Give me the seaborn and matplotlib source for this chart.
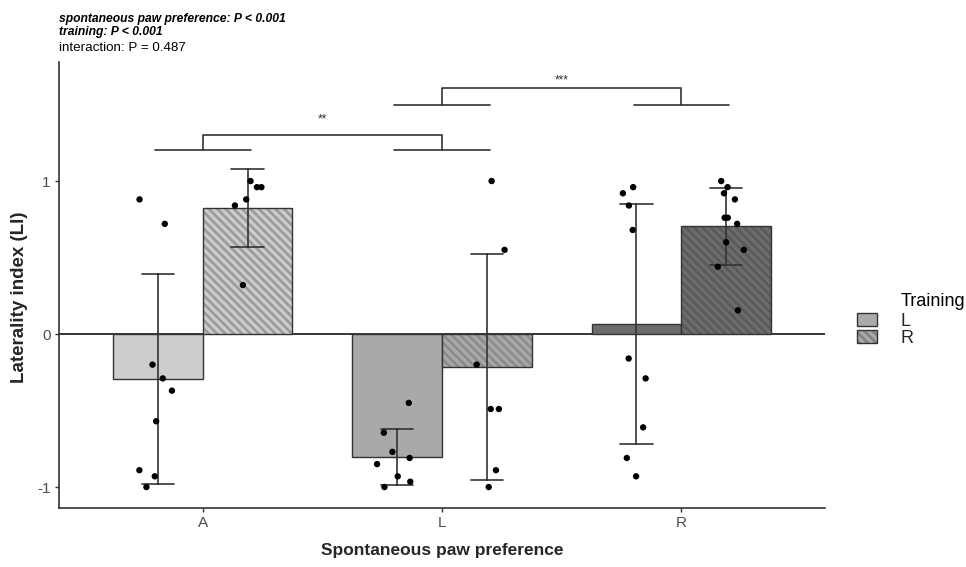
import numpy as np
import pandas as pd
import seaborn as sns
import matplotlib.pyplot as plt
import matplotlib.colors as mcolors
from matplotlib.patches import Patch

# spontaneous paw preference groups and training side
prefs = ['A', 'L', 'R']
trainings = ['L', 'R']

# individual laterality index values
li_AL = [0.88, 0.72, -0.20, -0.29, -0.37, -0.57, -0.93, -0.89, -1.00]
li_AR = [1.00, 0.96, 0.96, 0.88, 0.84, 0.32]
li_LL = [-0.45, -0.645, -0.77, -0.81, -0.85, -0.93, -0.965, -1.00]
li_LR = [1.00, 0.55, -0.20, -0.49, -0.49, -0.89, -1.00]
li_RL = [0.92, 0.96, 0.84, 0.68, -0.16, -0.29, -0.61, -0.81, -0.93]
li_RR = [1.00, 0.96, 0.92, 0.88, 0.76, 0.76, 0.72, 0.60, 0.55, 0.44, 0.155]

# significance brackets: (group 1, group 2, lower y, upper y, label, label y)
brackets = [('A', 'L', 1.20, 1.30, '**', 1.40),
            ('L', 'R', 1.50, 1.61, '***', 1.655)]

stat_lines = ['spontaneous paw preference: P < 0.001',
              'training: P < 0.001',
              'interaction: P = 0.487']

group_fill = {'A': '#cdcdcd', 'L': '#a9a9a9', 'R': '#6c6c6c'}
hatch_col = {'A': '#9c9c9c', 'L': '#8c8c8c', 'R': '#5a5a5a'}
dark = '#333333'

groups = {('A', 'L'): li_AL, ('A', 'R'): li_AR,
          ('L', 'L'): li_LL, ('L', 'R'): li_LR,
          ('R', 'L'): li_RL, ('R', 'R'): li_RR}
rows = []
for (p, t), vals in groups.items():
    for v in vals:
        rows.append({'pref': p, 'training': t, 'LI': v})
df = pd.DataFrame(rows)

sns.set_theme(style='white')
plt.rcParams['font.family'] = ['Liberation Sans', 'DejaVu Sans']
plt.rcParams['hatch.linewidth'] = 2.0

fig = plt.figure(figsize=(9.66, 5.67), dpi=100)
ax = fig.add_axes([59/966, 1-508/567, (825-59)/966, (508-62)/567])

ax.axhline(0, color='black', lw=1.1, zorder=0.5)

sns.barplot(data=df, x='pref', y='LI', hue='training', order=prefs,
            hue_order=trainings, errorbar='sd', capsize=0.27, width=0.75,
            err_kws={'color': dark, 'linewidth': 1.2},
            edgecolor=dark, linewidth=1, legend=False, ax=ax)

for i, cont in enumerate(ax.containers):
    for bar, p in zip(cont, prefs):
        bar.set_facecolor(group_fill[p])
        if trainings[i] == 'R':
            bar.set_hatch('\\\\\\\\')
            bar._hatch_color = mcolors.to_rgba(hatch_col[p])

np.random.seed(7)
sns.stripplot(data=df, x='pref', y='LI', hue='training', order=prefs,
              hue_order=trainings, dodge=True, jitter=0.15,
              palette=['black', 'black'], size=4.6, legend=False,
              ax=ax, zorder=4)

# significance brackets
pos = {p: i for i, p in enumerate(prefs)}
for g1, g2, y0, y1, lab, ly in brackets:
    x1, x2 = pos[g1], pos[g2]
    for x in (x1, x2):
        ax.plot([x - 0.2, x + 0.2], [y0, y0], color=dark, lw=1.2)
    ax.plot([x1, x1, x2, x2], [y0, y1, y1, y0], color=dark, lw=1.2)
    ax.text((x1 + x2) / 2, ly, lab, ha='center', va='center', fontsize=8.5,
            color=dark)

ax.set_xlim(-0.6, 2.6)
ax.set_ylim(-1.137, 1.778)
ax.set_yticks([-1, 0, 1])
ax.set_yticklabels(['-1', '0', '1'])
for s in ['top', 'right']:
    ax.spines[s].set_visible(False)
for s in ['left', 'bottom']:
    ax.spines[s].set_color(dark)
    ax.spines[s].set_linewidth(1.2)
ax.tick_params(axis='both', length=3, width=1, color=dark,
               labelcolor='#4d4d4d', labelsize=11, pad=3, bottom=True,
               left=True)
ax.set_xlabel('Spontaneous paw preference', fontsize=12.5,
              fontweight='bold', labelpad=9)
ax.set_ylabel('Laterality index (LI)', fontsize=13.5, fontweight='bold')
ax.yaxis.set_label_coords(-0.041, 0.473)

# statistics text above the panel
ys = [22, 35, 51]
for txt, y in zip(stat_lines, ys):
    bold = not txt.startswith('interaction')
    fig.text(59/966, 1 - y/567, txt, fontsize=8.7 if bold else 9.6,
             va='baseline', fontweight='bold' if bold else 'normal',
             fontstyle='italic' if bold else 'normal', color='black')

# legend
h_l = Patch(facecolor='#aaaaaa', edgecolor=dark, linewidth=1)
h_r = Patch(facecolor='#aaaaaa', edgecolor=dark, linewidth=1,
            hatch='\\\\\\\\')
h_r._hatch_color = mcolors.to_rgba('#828282')
leg = fig.legend([h_l, h_r], trainings, loc='center left',
                 bbox_to_anchor=(857/966, 1 - 330/567), frameon=False,
                 fontsize=13, handlelength=1.1, handleheight=0.7,
                 handletextpad=1.3, labelspacing=0.0, borderpad=0,
                 borderaxespad=0)
fig.text(901/966, 1 - 301/567, 'Training', fontsize=13, va='center',
         ha='left', color='black')

fig.savefig('out.png', dpi=100)
